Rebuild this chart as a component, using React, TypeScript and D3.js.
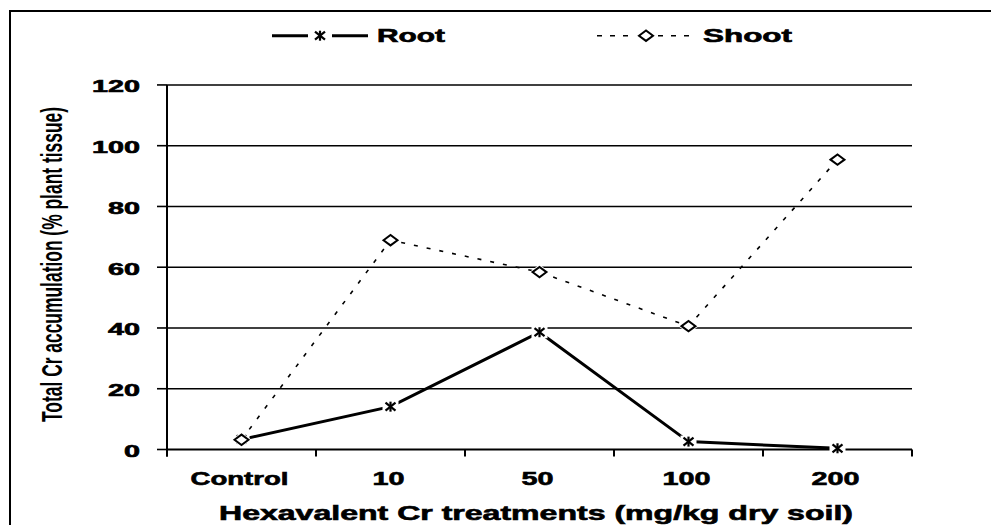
import React from "react";
import * as d3 from "d3";

const categories = ["Control", "10", "50", "100", "200"];
const rootValues = [3.3, 14.1, 38.6, 2.6, 0.4];
const shootValues = [3.2, 68.9, 58.4, 40.6, 95.4];
const yTicks = [0, 20, 40, 60, 80, 100, 120];

const FONT = "'Liberation Sans', Arial, sans-serif";

function Asterisk({ x, y }: { x: number; y: number }) {
  return (
    <g transform={`translate(${x},${y})`}>
      <rect x={-8} y={-6} width={16} height={12} fill="#fff" />
      <g stroke="#000" strokeWidth={2.2}>
        <line x1={0} y1={-5} x2={0} y2={5} />
        <line x1={-5} y1={-4} x2={5} y2={4} />
        <line x1={-5} y1={4} x2={5} y2={-4} />
      </g>
    </g>
  );
}

function Diamond({ x, y }: { x: number; y: number }) {
  return (
    <g transform={`translate(${x},${y})`}>
      <path d="M-10,0 L0,-7.5 L10,0 L0,7.5 Z" fill="#fff" />
      <path d="M-7,0 L0,-5.2 L7,0 L0,5.2 Z" fill="#fff" stroke="#000" strokeWidth={2} />
    </g>
  );
}

export default function App() {
  const x = d3.scaleBand<string>().domain(categories).range([167, 912]).padding(0);
  const cx = (c: string) => (x(c) as number) + x.bandwidth() / 2;
  const y = d3.scaleLinear().domain([0, 100]).range([449.5, 145.7]);

  const rootLine = d3
    .line<number>()
    .x((_, i) => cx(categories[i]))
    .y((v) => y(v));
  const shootLine = d3
    .line<number>()
    .x((_, i) => cx(categories[i]))
    .y((v) => y(v));

  const boundaries = [...categories.map((c) => x(c) as number), 912];
  const textStroke = { stroke: "#000", strokeWidth: 0.6 };

  return (
    <svg
      width={991}
      height={525}
      style={{ position: "absolute", left: 0, top: 0, display: "block", background: "#fff" }}
      fontFamily={FONT}
    >
      <rect x={0} y={0} width={991} height={525} fill="#fff" />
      {/* outer frame */}
      <rect x={10} y={11} width={1000} height={600} fill="none" stroke="#000" strokeWidth={2} />

      {/* gridlines */}
      {yTicks.filter((t) => t > 0).map((t) => (
        <line key={t} x1={167} x2={912} y1={y(t)} y2={y(t)} stroke="#000" strokeWidth={1.4} />
      ))}
      {/* y axis */}
      <line x1={167} x2={167} y1={y(120)} y2={y(0) + 7} stroke="#000" strokeWidth={2} />
      {yTicks.map((t) => (
        <line key={"yt" + t} x1={157} x2={167} y1={y(t)} y2={y(t)} stroke="#000" strokeWidth={1.6} />
      ))}
      {yTicks.map((t) => {
        const w = String(t).length * 16;
        return (
          <text
            key={"yl" + t}
            x={140 - w}
            y={y(t) + 7.5}
            fontSize={16.5}
            fontWeight="bold"
            textLength={w}
            lengthAdjust="spacingAndGlyphs"
            {...textStroke}
          >
            {t}
          </text>
        );
      })}
      {/* x axis */}
      <line x1={167} x2={912} y1={y(0)} y2={y(0)} stroke="#000" strokeWidth={2} />
      {boundaries.map((b, i) => (
        <line key={"xt" + i} x1={b} x2={b} y1={y(0)} y2={y(0) + 7} stroke="#000" strokeWidth={2} />
      ))}
      {categories.map((c) => {
        const w = c === "Control" ? 98 : c.length * 16;
        return (
          <text
            key={"xl" + c}
            x={cx(c) - 2 - w / 2}
            y={485}
            fontSize={18}
            fontWeight="bold"
            textLength={w}
            lengthAdjust="spacingAndGlyphs"
            {...textStroke}
          >
            {c}
          </text>
        );
      })}

      {/* axis titles */}
      <text
        x={219}
        y={520}
        fontSize={19.5}
        fontWeight="bold"
        textLength={634}
        lengthAdjust="spacingAndGlyphs"
        {...textStroke}
      >
        Hexavalent Cr treatments (mg/kg dry soil)
      </text>
      <text
        transform="translate(62,264.5) scale(1.7,1) rotate(-90)"
        x={-157.5}
        y={0}
        fontSize={17}
        fontWeight="bold"
        textLength={315}
        lengthAdjust="spacingAndGlyphs"
      >
        Total Cr accumulation (% plant tissue)
      </text>

      {/* series lines */}
      <path d={shootLine(shootValues) || ""} fill="none" stroke="#000" strokeWidth={1.6} strokeDasharray="4,9" />
      <path d={rootLine(rootValues) || ""} fill="none" stroke="#000" strokeWidth={3} />

      {/* markers */}
      {rootValues.map((v, i) => (
        <Asterisk key={"r" + i} x={cx(categories[i])} y={y(v)} />
      ))}
      {shootValues.map((v, i) => (
        <Diamond key={"s" + i} x={cx(categories[i])} y={y(v)} />
      ))}

      {/* legend */}
      <line x1={272} x2={308} y1={35.7} y2={35.7} stroke="#000" strokeWidth={3} />
      <line x1={332} x2={368} y1={35.7} y2={35.7} stroke="#000" strokeWidth={3} />
      <Asterisk x={320} y={35.7} />
      <text x={377} y={42} fontSize={18} fontWeight="bold" textLength={68} lengthAdjust="spacingAndGlyphs" {...textStroke}>
        Root
      </text>
      <line x1={597} x2={636} y1={35.7} y2={35.7} stroke="#000" strokeWidth={1.6} strokeDasharray="5,8" />
      <line x1={658} x2={696} y1={35.7} y2={35.7} stroke="#000" strokeWidth={1.6} strokeDasharray="5,8" />
      <Diamond x={646} y={35.7} />
      <text x={703} y={42} fontSize={18} fontWeight="bold" textLength={89} lengthAdjust="spacingAndGlyphs" {...textStroke}>
        Shoot
      </text>
    </svg>
  );
}
